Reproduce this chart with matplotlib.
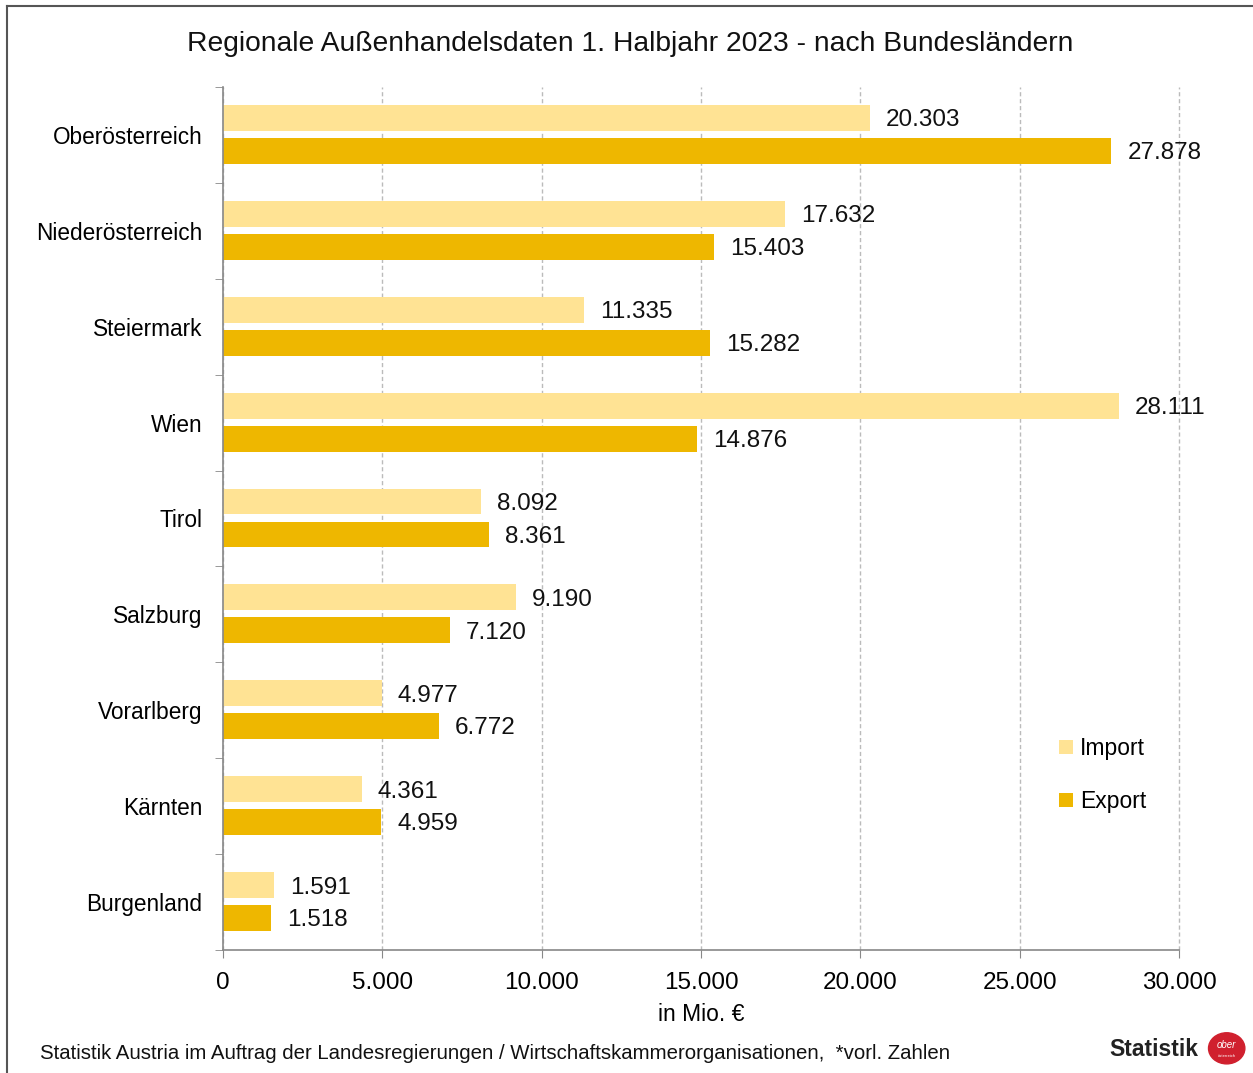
import numpy as np
import matplotlib.pyplot as plt
from matplotlib.lines import Line2D
from matplotlib.patches import Circle

plt.rcParams['font.family'] = ['Liberation Sans', 'DejaVu Sans']

# Daten
laender = ['Oberösterreich', 'Niederösterreich', 'Steiermark', 'Wien', 'Tirol',
           'Salzburg', 'Vorarlberg', 'Kärnten', 'Burgenland']
imports = [20303, 17632, 11335, 28111, 8092, 9190, 4977, 4361, 1591]
exports = [27878, 15403, 15282, 14876, 8361, 7120, 6772, 4959, 1518]
xticks = [0, 5000, 10000, 15000, 20000, 25000, 30000]

col_imp = '#FFE394'
col_exp = '#EEB700'


def fmt(v):
    return f'{v:,}'.replace(',', '.')


fig = plt.figure(figsize=(12.53, 10.73), dpi=100)
ax = fig.add_axes([0.178, 0.1146, 0.763, 0.8044])

y = np.arange(len(laender))
h = 0.27
b1 = ax.barh(y - 0.177, imports, height=h, color=col_imp, zorder=2, label='Import')
b2 = ax.barh(y + 0.167, exports, height=h, color=col_exp, zorder=2, label='Export')

for i in range(len(laender)):
    ax.text(imports[i] + 500, y[i] - 0.15, fmt(imports[i]), va='center', ha='left',
            fontsize=17.5, color='#111111', zorder=3)
    ax.text(exports[i] + 500, y[i] + 0.19, fmt(exports[i]), va='center', ha='left',
            fontsize=17.5, color='#111111', zorder=3)

ax.set_xlim(0, 30000)
ax.set_ylim(len(laender) - 0.5, -0.5)
ax.set_xticks(xticks)
ax.set_xticklabels([fmt(v) for v in xticks], fontsize=17.5)
ax.set_yticks(y)
ax.set_yticklabels(laender, fontsize=16.3)
ax.set_yticks(np.arange(len(laender) + 1) - 0.5, minor=True)
ax.tick_params(axis='y', which='major', length=0, pad=15)
ax.tick_params(axis='y', which='minor', length=6, color='#888888')
ax.tick_params(axis='x', length=6, color='#888888', pad=10)

for s in ['top', 'right']:
    ax.spines[s].set_visible(False)
for s in ['left', 'bottom']:
    ax.spines[s].set_color('#888888')
    ax.spines[s].set_linewidth(1.2)

ax.grid(axis='x', linestyle=(0, (3, 2)), color='#BBBBBB', linewidth=1, zorder=0)
for gl in ax.get_xgridlines():
    gl.set_clip_on(False)
ax.set_axisbelow(True)

ax.set_xlabel('in Mio. €', fontsize=16.5, labelpad=6)

ax.legend(handles=[b1, b2], loc='lower left', bbox_to_anchor=(0.853, 0.135),
          frameon=False, fontsize=16.5, handlelength=0.6, handleheight=0.6,
          labelspacing=1.3, handletextpad=0.3)

fig.text(0.503, 0.959, 'Regionale Außenhandelsdaten 1. Halbjahr 2023 - nach Bundesländern',
         ha='center', va='center', fontsize=20.3, color='#111111')
fig.text(0.032, 0.018, 'Statistik Austria im Auftrag der Landesregierungen / '
         'Wirtschaftskammerorganisationen,  *vorl. Zahlen',
         ha='left', va='center', fontsize=14.7, color='#111111')

# Logo
fig.text(0.956, 0.022, 'Statistik', ha='right', va='center', fontsize=16.5,
         fontweight='bold', color='#222222')
logo = Circle((0.979, 0.023), 0.0145, transform=fig.transFigure,
              color='#D0202E', zorder=5)
fig.add_artist(logo)
fig.text(0.979, 0.026, 'ober', ha='center', va='center', fontsize=7,
         style='italic', color='white', zorder=6)
fig.text(0.979, 0.016, 'österreich', ha='center', va='center', fontsize=3,
         color='white', zorder=6)

# Rahmen
fig.add_artist(Line2D([0.0056, 0.0056], [0, 0.9944], transform=fig.transFigure,
                      color='#555555', linewidth=1.5))
fig.add_artist(Line2D([0.0056, 1], [0.9944, 0.9944], transform=fig.transFigure,
                      color='#555555', linewidth=1.5))

fig.savefig('out.png', dpi=100)
